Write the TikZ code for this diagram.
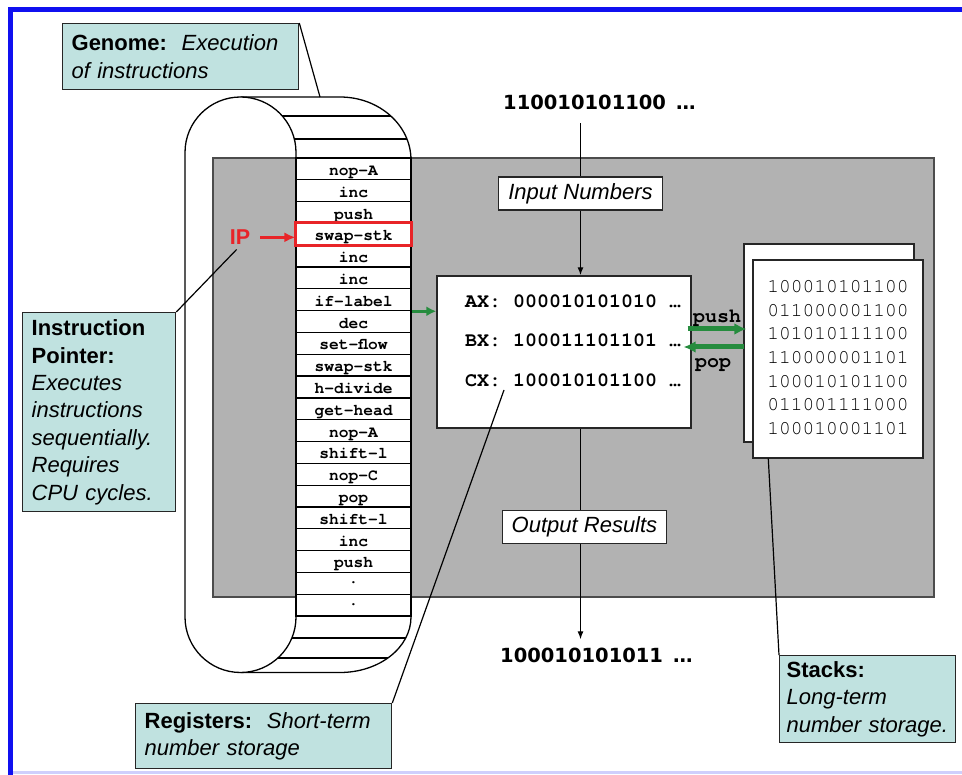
\documentclass[tikz,border=0pt]{standalone}
\usepackage{fontspec}
\setmainfont{Liberation Sans}
\newfontfamily\codefont{TeX Gyre Cursor}
\newfontfamily\bitsfont{DejaVu Sans}
\usepackage{xcolor}
\usetikzlibrary{arrows.meta,positioning,calc}

\definecolor{notecyan}{RGB}{192,226,224}
\definecolor{cpugray}{RGB}{178,178,178}
\definecolor{frameblue}{RGB}{16,16,240}
\definecolor{ipred}{RGB}{232,36,40}
\definecolor{busgreen}{RGB}{38,140,62}

\begin{document}
\begin{tikzpicture}[
  x=1pt, y=-1pt,
  note/.style={rectangle, draw=black!85, line width=1.3pt, fill=notecyan, anchor=north west,
               align=left, inner xsep=9pt, inner ysep=4pt,
               font=\fontsize{22}{27.4}\selectfont},
  cell/.style={rectangle, draw=black, line width=1.2pt, fill=white,
               minimum width=115pt, minimum height=21.81pt, inner sep=0pt,
               text height=13pt, text depth=0pt,
               font=\codefont\bfseries\fontsize{16.25}{18}\selectfont},
  page/.style={rectangle, draw=black!85, line width=1.4pt, fill=white,
               minimum width=170pt, minimum height=198pt},
  tag/.style={rectangle, draw=black!85, line width=1.3pt, fill=white,
              minimum width=164pt, minimum height=33pt,
              font=\fontsize{22}{26}\selectfont\itshape},
  bits/.style={anchor=base west, inner sep=0pt,
               font=\bitsfont\bfseries\fontsize{19.5}{22}\selectfont},
  reg/.style={anchor=base west, inner sep=0pt,
              font=\codefont\bfseries\fontsize{20}{24}\selectfont},
  arr/.style={-{Latex[length=8pt,width=6pt]}, line width=1.2pt},
  garr/.style={-{Latex[length=12pt,width=12pt]}, line width=5pt, busgreen},
  pin/.style={line width=1.2pt}
]
\useasboundingbox (0,0) rectangle (962,775);

% frame
\draw[frameblue, line width=5pt, line join=miter] (10.5,775) -- (10.5,9.5) -- (962,9.5);
\draw[frameblue!20, line width=3pt] (13,772) -- (962,772);

% genome loop
\draw[line width=1.3pt, fill=white] (240.5,97) -- (340,97)
  arc[start angle=270, end angle=360, x radius=71, y radius=63] -- (411,617)
  arc[start angle=0, end angle=90, x radius=71, y radius=55.5] -- (240.5,672.5);
\draw[line width=1.3pt, fill=white] (185,617) -- (185,152.5)
  arc[start angle=180, end angle=360, radius=55.5] -- (296,617)
  arc[start angle=0, end angle=180, radius=55.5] -- cycle;
\draw[line width=1.2pt] (282.3,116) -- (390.8,116);
\draw[line width=1.2pt] (294.3,139) -- (406.9,139);
\draw[line width=1.2pt] (291.9,638) -- (405.7,638);
\draw[line width=1.2pt] (277.9,658) -- (387.9,658);

% cpu
\draw[fill=cpugray, draw=black!70, line width=1.2pt] (213,158) rectangle (934,597);

% tape of instructions
\foreach \op [count=\i] in {nop-A,inc,push,swap-stk,inc,inc,if-label,dec,set-flow,swap-stk,
    h-divide,get-head,nop-A,shift-l,nop-C,pop,shift-l,inc,push,{\raisebox{6pt}{.}},{\raisebox{6pt}{.}}}
  \node[cell] (r\i) at (353.5, {158+21.81*(\i-0.5)}) {\op};
\draw[ipred, line width=3pt] (r4.north west) rectangle (r4.south east);

\node[font=\bfseries\fontsize{21.5}{24}\selectfont, text=ipred, inner sep=1pt,
      left=44pt of r4, yshift=-3pt] (ip) {IP};
\draw[-{Latex[length=11pt,width=10pt]}, line width=3.5pt, ipred, shorten <=9pt] (ip) -- (ip -| r4.west);

% registers
\node[rectangle, draw=black!85, line width=1.4pt, fill=white,
      minimum width=254pt, minimum height=152pt] (regs) at (564,352) {};
\node[reg] (ax) at (465,307.3) {AX: 000010101010 …};
\node[reg] (bx) at (465,347) {BX: 100011101101 …};
\node[reg] (cx) at (465,386.7) {CX: 100010101100 …};
\coordinate (cxpin) at (504,390);

% input and output
\node[bits] (inbits) at (503,110) {110010101100\hspace{10pt}…};
\node[tag] (innum) at (580.5,193.5) {Input Numbers};
\node[tag] (outres) at (584.5,527) {Output Results};
\node[bits] (outbits) at (500,662) {100010101011\hspace{10pt}…};
\draw[pin, shorten <=13pt] (inbits.south -| innum.north) -- (innum.north);
\draw[arr] (innum.south) -- (innum.south |- regs.north);
\draw[pin] (innum.south |- regs.south) -- (innum.south |- outres.north);
\draw[arr, shorten >=8pt] (innum.south |- outres.south) -- (innum.south |- outbits.north);

% stacks
\node[page] (back) at (829,343) {};
\node[page] (front) at (838,359) {};
\node[font=\codefont\fontsize{19.6}{23.7}\selectfont, align=left, inner sep=0pt]
  (stknum) at (838,357.5)
  {100010101100\\011000001100\\101010111100\\110000001101\\100010101100\\011001111000\\100010001101};

\draw[garr, line width=3.5pt, -{Latex[length=10pt,width=10pt]}] (r7.south east) -- (r7.south east -| regs.west);
\draw[garr] ($(regs.east)+(-4,-23)$) -- ($(front.west)+(-6,-30)$);
\draw[garr] ($(back.west)+(1,4)$) -- ($(regs.east)+(-8,-5)$);
\node[reg] (pushlbl) at (693,322.6) {push};
\node[reg] (poplbl) at (695,367.6) {pop};

% notes
\node[note, text width=218pt, minimum height=66pt] (genome) at (62,23)
  {\textbf{Genome:}~~\textit{Execution}\\\textit{of instructions}};
\node[note, text width=135pt, minimum height=199pt] (ipnote) at (22,312)
  {\textbf{Instruction}\\\textbf{Pointer:}\\\textit{Executes}\\\textit{instructions}\\
   \textit{sequentially.}\\\textit{Requires}\\\textit{CPU cycles.}};
\node[note, text width=238pt, minimum height=65pt] (regnote) at (135,703)
  {\textbf{Registers:}~~\textit{Short-term}\\\textit{number storage}};
\node[note, inner xsep=7pt, text width=162pt, minimum height=87pt] (stknote) at (779,655)
  {\textbf{Stacks:}\\\textit{Long-term}\\\textit{number storage.}};

\coordinate (looptop) at (320,97);
\draw[pin] (genome.north east) -- (looptop);
\draw[pin, shorten <=5pt] (ip.south) -- (ipnote.north east);
\draw[pin] (cxpin) -- (regnote.north east);
\draw[pin] ($(front.south west)+(16,0)$) -- (stknote.north west);
\end{tikzpicture}
\end{document}
